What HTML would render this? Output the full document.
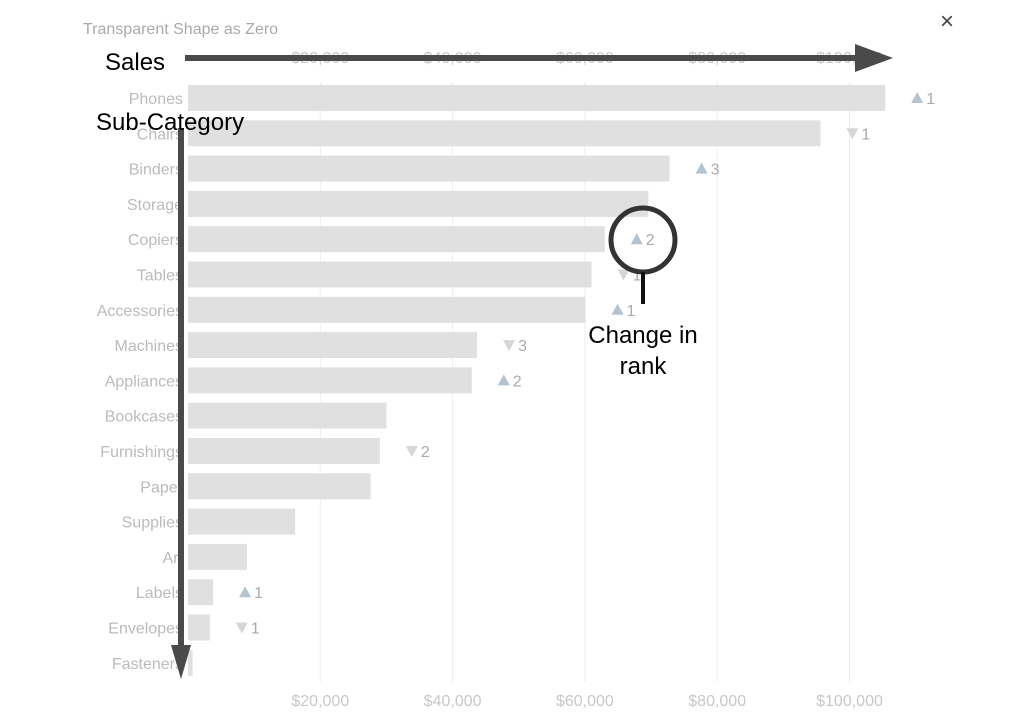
<!DOCTYPE html>
<html><head><meta charset="utf-8"><style>
html,body{margin:0;padding:0;background:#fff;}
svg{display:block;font-family:"Liberation Sans",sans-serif;}
</style></head><body>
<svg id="chart" width="1023" height="724">
<text x="83" y="34" font-size="16" fill="#aaa">Transparent Shape as Zero</text>
<text x="940" y="29" font-size="24" fill="#444">×</text>
<g id="grid"></g>
<g id="bars"></g>
<g id="labels"></g>
<g id="ann">
<line x1="185" y1="58" x2="860" y2="58" stroke="#4a4a4a" stroke-width="6"/>
<polygon points="855,44 893,58 855,72" fill="#4a4a4a"/>
<text x="105" y="70" font-size="24" fill="#000">Sales</text>
<line x1="181" y1="128" x2="181" y2="650" stroke="#4a4a4a" stroke-width="6"/>
<polygon points="171,645 181,679 191,645" fill="#4a4a4a"/>
<text x="96" y="130" font-size="24" fill="#000">Sub-Category</text>
<circle cx="643" cy="240" r="32" fill="none" stroke="#333" stroke-width="5"/>
<line x1="643" y1="272" x2="643" y2="304" stroke="#111" stroke-width="4"/>
<text x="643" y="343" font-size="24" fill="#000" text-anchor="middle">Change in</text>
<text x="643" y="374" font-size="24" fill="#000" text-anchor="middle">rank</text>
</g>
</svg>
<script>
const categories=["Phones","Chairs","Binders","Storage","Copiers","Tables","Accessories","Machines","Appliances","Bookcases","Furnishings","Paper","Supplies","Art","Labels","Envelopes","Fasteners"];
const sales=[105400,95600,72800,69600,63000,61000,60100,43700,42900,30000,29000,27600,16200,8900,3800,3300,700];
const rankChange=[1,-1,3,0,2,-1,1,-3,2,0,-2,0,0,0,1,-1,0];
const tickValues=[20000,40000,60000,80000,100000];
const tickLabels=["$20,000","$40,000","$60,000","$80,000","$100,000"];
const NS="http://www.w3.org/2000/svg";
const x=v=>188+v*0.006615;
const y=i=>98+i*35.3;
function mk(t,a,p){const e=document.createElementNS(NS,t);for(const k in a)e.setAttribute(k,a[k]);p.appendChild(e);return e;}
const grid=document.getElementById('grid'),bars=document.getElementById('bars'),labels=document.getElementById('labels');
tickValues.forEach((v,i)=>{
 const l=mk('line',{x1:x(v),x2:x(v),y1:82,y2:682,stroke:'#eee','stroke-width':1},grid);
 
 
 [63,706].forEach((ty,j)=>{
  const t=mk('text',{x:x(v),y:ty,'font-size':16,fill:'#c8c8c8','text-anchor':'middle'},grid);
  t.textContent=tickLabels[i];
  
  
 });
});
categories.forEach((c,i)=>{
 const cy=y(i);
 const b=mk('rect',{x:188,y:cy-13,width:Math.max(0,x(sales[i])-188),height:26,fill:'#e0e0e0'},bars);
 
 
 const t=mk('text',{x:183,y:cy+6,'font-size':16,fill:'#bbb','text-anchor':'end'},labels);
 t.textContent=c;
 
 
 const r=rankChange[i];
 if(r!==0){
  const ix=x(sales[i])+32;
  const up=r>0;
  const tri=mk('polygon',{points:up?`${ix-6},${cy+5} ${ix+6},${cy+5} ${ix},${cy-6}`:`${ix-6},${cy-5} ${ix+6},${cy-5} ${ix},${cy+6}`,fill:up?'#b4c3d0':'#d6d6d6'},labels);
  
  
  const n=mk('text',{x:ix+9,y:cy+6,'font-size':16,fill:'#aaa'},labels);
  n.textContent=Math.abs(r);
  
  
 }
});
</script>
</body></html>
